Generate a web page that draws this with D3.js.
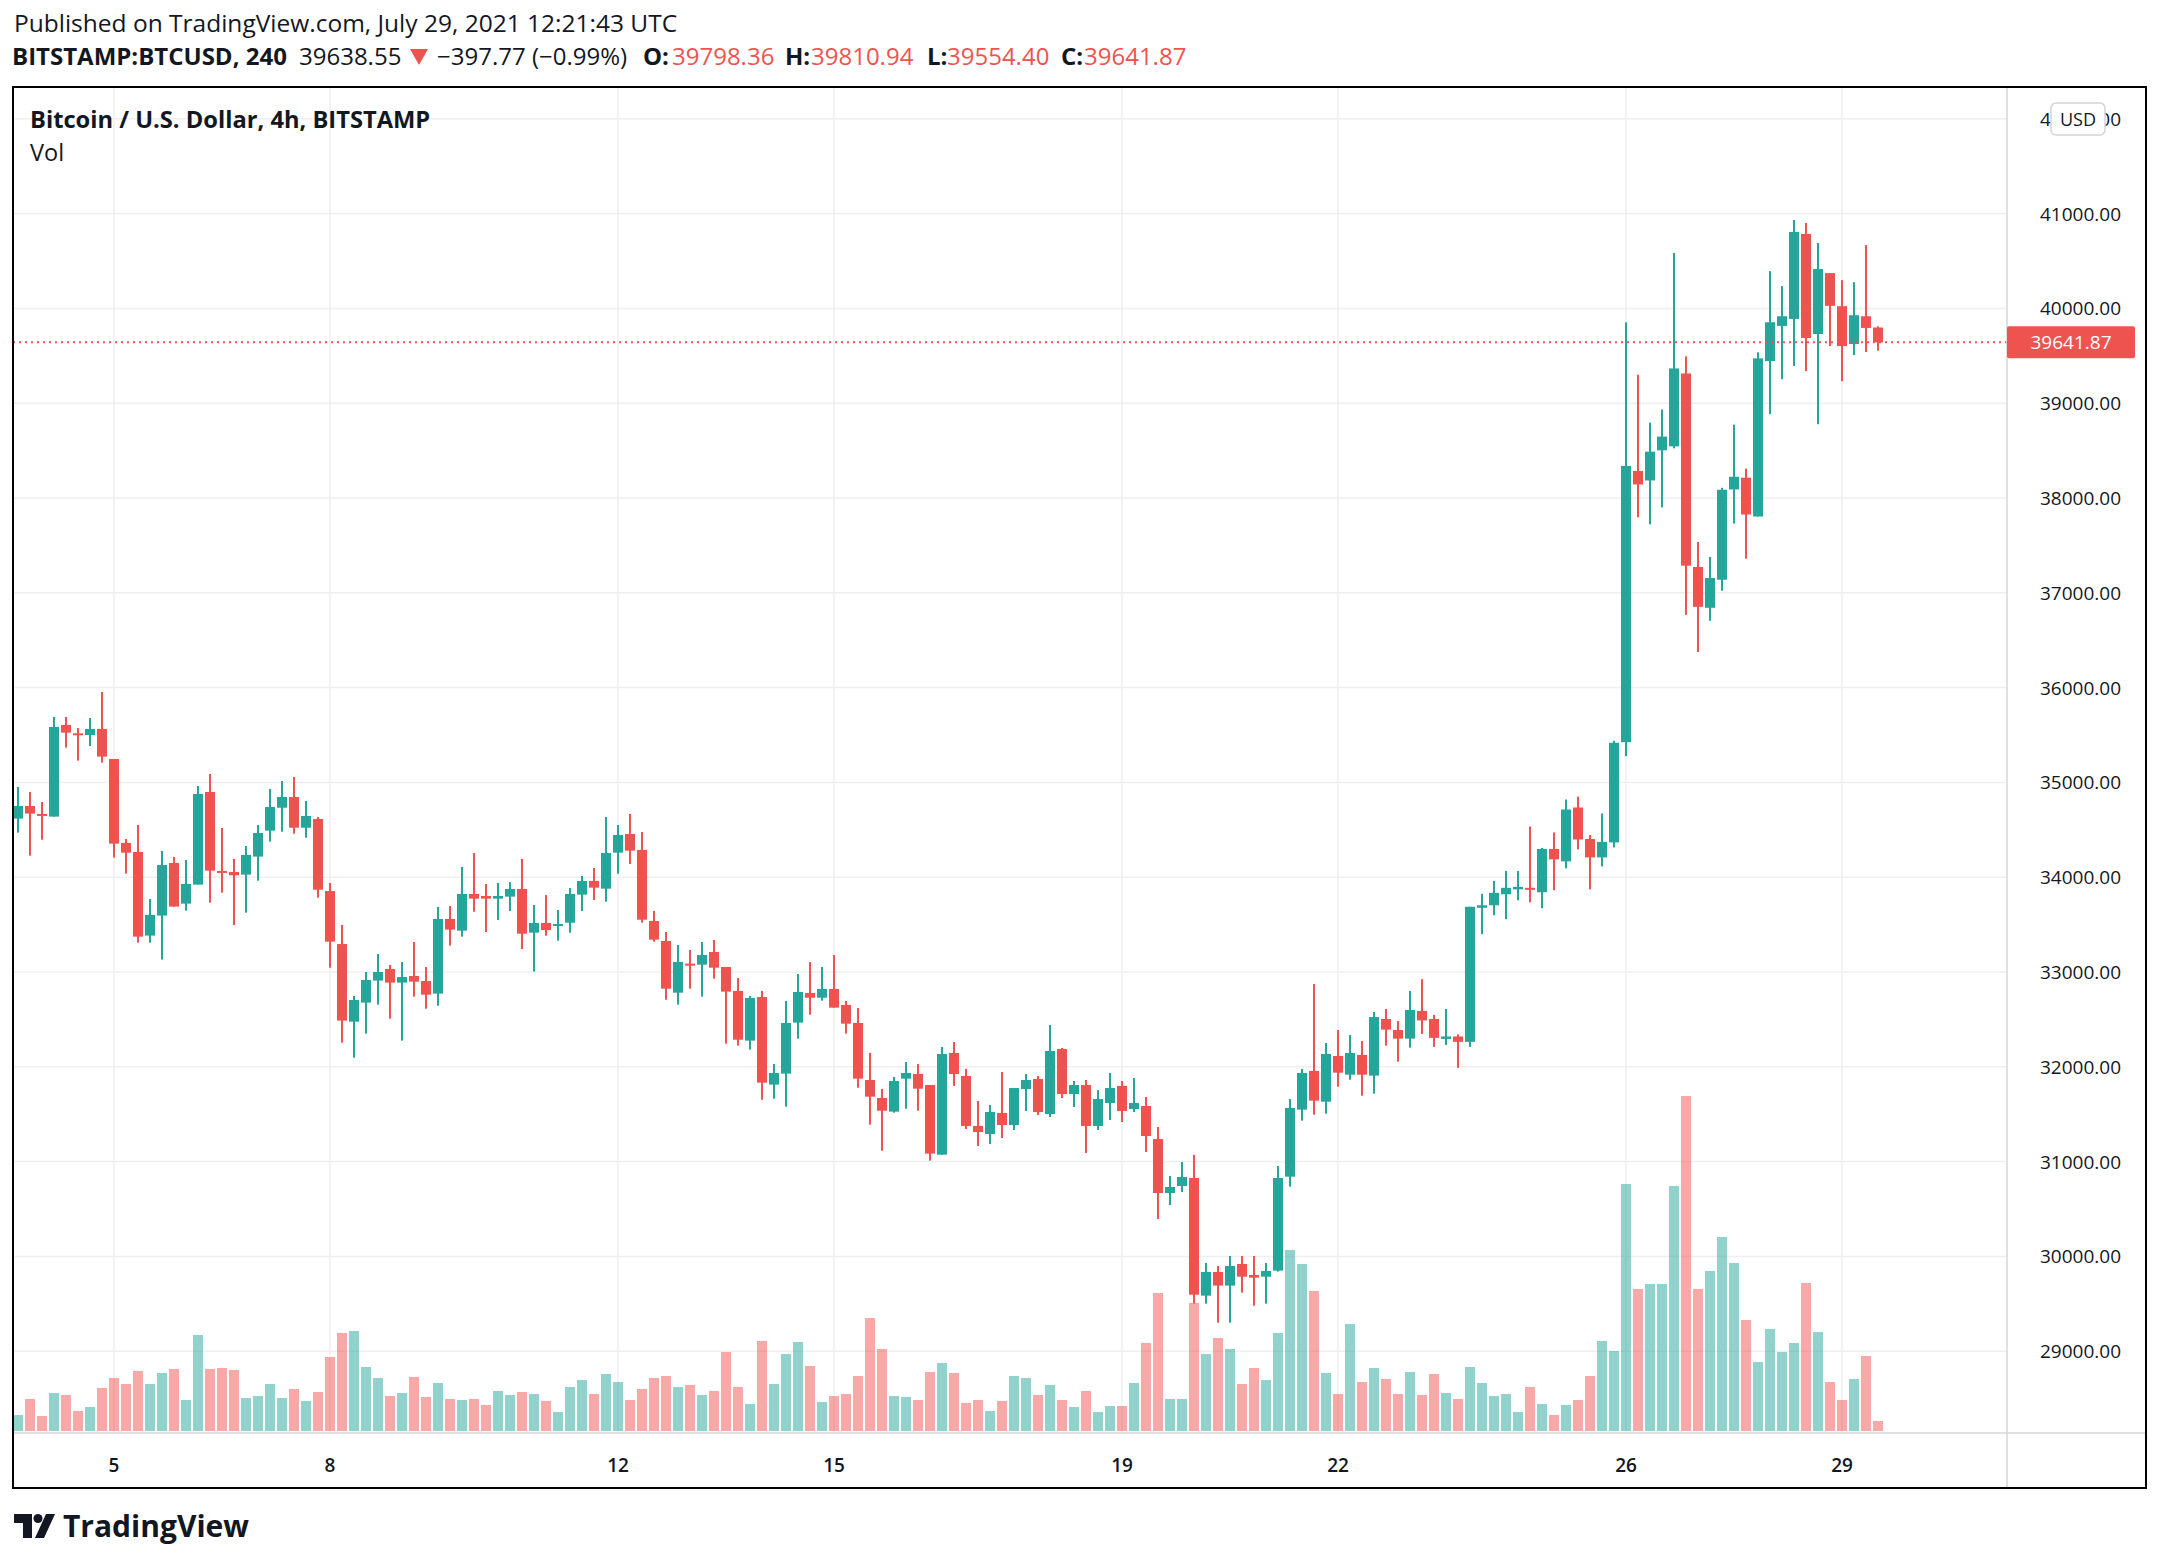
<!DOCTYPE html>
<html>
<head>
<meta charset="utf-8">
<script src="https://cdn.jsdelivr.net/npm/d3@7"></script>
<style>
  body { margin: 0; background: #fff; }
  svg text { font-family: "Open Sans", "Noto Sans", sans-serif; fill: #131722; }
</style>
</head>
<body>
<div id="chart"></div>
<script>
// BTCUSD 4h candles, Bitstamp, 3 Jul 16:00 UTC .. 29 Jul 12:00 UTC
let startTime = Date.UTC(2021, 6, 3, 16);
let stepMs = 4 * 3600 * 1000;

let openP = [
  34618, 34751, 34667, 34639, 35606, 35518, 35500, 35564,
  35247, 34361, 34266, 33384, 33595, 34150, 33721, 33922, 34899, 34066, 34055, 34027,
  34217, 34491, 34733, 34846, 34522, 34614, 33854, 33295, 32476, 32677, 32909, 33032,
  32888, 32958, 32905, 32772, 33559, 33436, 33823, 33802, 33774, 33795, 33876, 33415,
  33517, 33489, 33520, 33816, 33960, 33879, 34259, 34456, 34287, 33538, 33327, 32782,
  33088, 33077, 33211, 33053, 32800, 32276, 32736, 31812, 31928, 32466, 32779, 32729,
  32821, 32652, 32462, 31861, 31671, 31527, 31875, 31924, 31808, 31073, 32146, 31903,
  31376, 31291, 31513, 31386, 31766, 31871, 31502, 32188, 31713, 31808, 31376, 31618,
  31798, 31555, 31587, 31238, 30669, 30743, 30827, 29586, 29836, 29692, 29920, 29804,
  29786, 29850, 30841, 31548, 31956, 31632, 32114, 31917, 32125, 31907, 32504, 32388,
  32297, 32589, 32505, 32294, 32320, 32263, 33677, 33704, 33820, 33872, 33888, 33841,
  34298, 34167, 34735, 34403, 34209, 34367, 35424, 38285, 38185, 38503, 38545, 39314,
  37272, 36842, 37138, 38090, 38214, 37805, 39445, 39815, 39889, 40785, 39730, 40372,
  40023, 39624, 39917, 39798.36
];
let highP = [
  34952, 34899, 34794, 35690, 35690, 35574, 35680, 35954,
  35247, 34403, 34551, 33770, 34277, 34214, 34182, 34962, 35089, 34519, 34192, 34330,
  34551, 34930, 35015, 35057, 34804, 34635, 33939, 33496, 32747, 33000, 33190, 33074,
  33106, 33316, 33053, 33686, 33696, 34108, 34255, 33928, 33939, 33949, 34192, 33707,
  33812, 33654, 33886, 34013, 34097, 34635, 34551, 34667, 34477, 33644, 33422, 33285,
  33232, 33317, 33338, 33053, 32937, 32747, 32800, 32030, 32694, 32979, 33105, 33053,
  33179, 32694, 32620, 32146, 31766, 31892, 32051, 32030, 31808, 32209, 32262, 31977,
  31639, 31597, 31945, 31776, 31924, 31903, 32441, 32198, 31850, 31861, 31755, 31935,
  31850, 31882, 31681, 31365, 30848, 30996, 31070, 29931, 29899, 30004, 30004, 30004,
  29931, 30954, 31660, 31977, 32873, 32251, 32388, 32335, 32272, 32578, 32610, 32483,
  32800, 32925, 32547, 32610, 32342, 33688, 33825, 33961, 34067, 34067, 34535, 34309,
  34472, 34819, 34850, 34445, 34672, 35439, 39853, 39300, 38795, 38933, 40584, 39494,
  37536, 37378, 38108, 38774, 38309, 39536, 40393, 40235, 40933, 40901, 40690, 40372,
  40298, 40277, 40668, 39810.94
];
let lowP = [
  34470, 34228, 34396, 34639, 35367, 35230, 35384, 35209,
  34207, 34038, 33310, 33310, 33131, 33690, 33647, 33922, 33732, 33837, 33496, 33626,
  33963, 34375, 34480, 34459, 34417, 33784, 33046, 32255, 32096, 32350, 32656, 32508,
  32276, 32740, 32613, 32645, 33278, 33373, 33636, 33422, 33549, 33644, 33243, 33004,
  33383, 33331, 33415, 33644, 33760, 33742, 34037, 34139, 33520, 33320, 32708, 32656,
  32824, 32740, 32930, 32244, 32223, 32181, 31653, 31664, 31580, 32297, 32550, 32698,
  32624, 32350, 31780, 31390, 31115, 31516, 31558, 31537, 31010, 31073, 31798, 31344,
  31165, 31186, 31249, 31333, 31534, 31492, 31471, 31671, 31576, 31091, 31333, 31439,
  31418, 31523, 31101, 30395, 30542, 30679, 29502, 29502, 29301, 29301, 29618, 29480,
  29502, 29840, 30736, 31432, 31495, 31506, 31791, 31864, 31696, 31717, 32223, 32054,
  32202, 32347, 32210, 32231, 31989, 32210, 33399, 33599, 33557, 33756, 33735, 33672,
  33862, 34093, 34293, 33872, 34114, 34314, 35277, 37796, 37722, 37900, 38524, 36768,
  36376, 36704, 37022, 37730, 37360, 37805, 38884, 39254, 39392, 39339, 38778, 39603,
  39233, 39508, 39540, 39554.40
];
let closeP = [
  34751, 34671, 34650, 35585, 35525, 35497, 35564, 35272,
  34354, 34259, 33373, 33602, 34129, 33690, 33929, 34878, 34069, 34048, 34020, 34235,
  34466, 34740, 34846, 34522, 34646, 33868, 33320, 32487, 32705, 32916, 33000, 32888,
  32947, 32898, 32761, 33559, 33447, 33823, 33774, 33774, 33802, 33876, 33404, 33517,
  33443, 33506, 33823, 33960, 33890, 34255, 34445, 34280, 33552, 33341, 32824, 33106,
  33067, 33179, 33046, 32793, 32286, 32726, 31833, 31935, 32462, 32789, 32729, 32821,
  32624, 32455, 31875, 31685, 31537, 31850, 31935, 31769, 31084, 32135, 31924, 31376,
  31312, 31523, 31386, 31776, 31861, 31523, 32167, 31713, 31808, 31376, 31660, 31776,
  31534, 31618, 31270, 30669, 30732, 30838, 29596, 29836, 29692, 29899, 29786, 29776,
  29846, 30827, 31566, 31935, 31643, 32135, 31938, 32146, 31917, 32525, 32392, 32297,
  32599, 32489, 32305, 32320, 32263, 33688, 33704, 33835, 33888, 33898, 33867, 34298,
  34188, 34714, 34398, 34209, 34372, 35418, 38338, 38143, 38489, 38648, 39367, 37286,
  36852, 37156, 38087, 38224, 37826, 39473, 39854, 39917, 40806, 39688, 40415, 40027,
  39603, 39928, 39794, 39641.87
];
let volume = [
  160, 320, 150, 380, 360, 200, 240, 430,
  530, 470, 600, 470, 580, 620, 310, 960, 620, 630, 610, 330,
  350, 470, 330, 420, 300, 390, 740, 980, 1000, 640, 530, 350,
  380, 540, 340, 480, 320, 310, 320, 260, 400, 360, 390, 370,
  300, 190, 440, 510, 370, 570, 490, 310, 420, 530, 550, 440,
  460, 360, 400, 790, 440, 270, 900, 470, 770, 890, 650, 290,
  350, 370, 550, 1130, 820, 350, 340, 310, 590, 680, 580, 280,
  310, 200, 300, 550, 530, 360, 460, 310, 240, 400, 190, 250,
  250, 480, 880, 1380, 320, 320, 1280, 770, 930, 820, 470, 630,
  510, 980, 1810, 1670, 1400, 580, 370, 1070, 490, 630, 520, 370,
  590, 360, 570, 380, 320, 640, 480, 350, 370, 190, 440, 270,
  160, 260, 310, 550, 900, 800, 2470, 1420, 1470, 1470, 2450, 3350,
  1420, 1600, 1940, 1680, 1110, 690, 1020, 790, 880, 1480, 990, 490,
  310, 520, 750, 100
];

let dayTicks = [5, 8, 12, 15, 19, 22, 26, 29];
let priceTicks = [29000, 30000, 31000, 32000, 33000, 34000, 35000, 36000,
                  37000, 38000, 39000, 40000, 41000, 42000];
let lastPrice = 39641.87;

let upColor = "#26a69a", downColor = "#ef5350";

let candles = openP.map(function(o, i) {
  return {t: new Date(startTime + i * stepMs), o: o, h: highP[i], l: lowP[i], c: closeP[i], v: volume[i]};
});

let W = 2160, H = 1562;
let plot = {left: 13, top: 87, right: 2007, bottom: 1433};

let svg = d3.select("#chart").append("svg")
  .attr("width", W).attr("height", H)
  .style("display", "block");

svg.append("rect").attr("width", W).attr("height", H).attr("fill", "#fff");

let x = d3.scaleUtc()
  .domain([new Date(Date.UTC(2021, 6, 5)), new Date(Date.UTC(2021, 6, 29))])
  .range([114, 1842]);
let y = d3.scaleLinear().domain([30000, 41000]).range([1256.4, 213.6]);
let vy = d3.scaleLinear().domain([0, d3.max(volume)]).range([1431, 1096]);

svg.append("clipPath").attr("id", "plotclip")
  .append("rect")
  .attr("x", plot.left).attr("y", plot.top)
  .attr("width", plot.right - plot.left).attr("height", plot.bottom - plot.top);

// grid
let grid = svg.append("g").attr("clip-path", "url(#plotclip)");
grid.selectAll(".hgrid").data(priceTicks).enter().append("line")
  .attr("x1", plot.left).attr("x2", plot.right)
  .attr("y1", d => y(d)).attr("y2", d => y(d))
  .attr("stroke", "#efefef").attr("stroke-width", 1.5);
grid.selectAll(".vgrid").data(dayTicks).enter().append("line")
  .attr("x1", d => x(new Date(Date.UTC(2021, 6, d)))).attr("x2", d => x(new Date(Date.UTC(2021, 6, d))))
  .attr("y1", plot.top).attr("y2", plot.bottom)
  .attr("stroke", "#efefef").attr("stroke-width", 1.5);

let g = svg.append("g").attr("clip-path", "url(#plotclip)");

// volume
g.selectAll(".vol").data(candles).enter().append("rect")
  .attr("x", d => x(d.t) - 5).attr("width", 10)
  .attr("y", d => vy(d.v)).attr("height", d => vy(0) - vy(d.v))
  .attr("fill", d => d.c >= d.o ? upColor : downColor)
  .attr("fill-opacity", 0.5);

// wicks
g.selectAll(".wick").data(candles).enter().append("rect")
  .attr("x", d => x(d.t) - 1).attr("width", 2)
  .attr("y", d => y(d.h)).attr("height", d => Math.max(1, y(d.l) - y(d.h)))
  .attr("fill", d => d.c >= d.o ? upColor : downColor);

// bodies
g.selectAll(".body").data(candles).enter().append("rect")
  .attr("x", d => x(d.t) - 5).attr("width", 10)
  .attr("y", d => y(Math.max(d.o, d.c)))
  .attr("height", d => Math.max(2, Math.abs(y(d.o) - y(d.c))))
  .attr("fill", d => d.c >= d.o ? upColor : downColor);

// last price line
g.append("line")
  .attr("x1", plot.left).attr("x2", plot.right)
  .attr("y1", y(lastPrice)).attr("y2", y(lastPrice))
  .attr("stroke", downColor).attr("stroke-width", 2)
  .attr("stroke-dasharray", "2,4");

// axis separators
svg.append("line").attr("x1", plot.right).attr("x2", plot.right)
  .attr("y1", plot.top).attr("y2", 1488).attr("stroke", "#d6d6d6").attr("stroke-width", 1.5);
svg.append("line").attr("x1", plot.left).attr("x2", 2146)
  .attr("y1", plot.bottom).attr("y2", plot.bottom).attr("stroke", "#d6d6d6").attr("stroke-width", 1.5);

// price axis labels
let yAxis = svg.append("g");
yAxis.selectAll("text").data(priceTicks.filter(d => y(d) < plot.bottom - 10)).enter().append("text")
  .attr("x", 2040).attr("y", d => y(d) + 7)
  .style("font-size", "19px")
  .text(d => d3.format(".2f")(d));

// USD box (covers the middle of the top label, as in the original)
svg.append("rect").attr("x", 2051).attr("y", 103).attr("width", 54).attr("height", 32)
  .attr("rx", 5).attr("fill", "#fff").attr("stroke", "#d1d4dc").attr("stroke-width", 1.5);
svg.append("text").attr("x", 2078).attr("y", 126).attr("text-anchor", "middle")
  .style("font-size", "18px").text("USD");

// last price tag
svg.append("rect").attr("x", plot.right).attr("y", y(lastPrice) - 16)
  .attr("width", 128).attr("height", 32).attr("rx", 2).attr("fill", downColor);
svg.append("text").attr("x", 2071).attr("y", y(lastPrice) + 7)
  .attr("text-anchor", "middle").style("font-size", "19px").style("fill", "#fff")
  .text(d3.format(".2f")(lastPrice));

// time axis labels
svg.append("g").selectAll("text").data(dayTicks).enter().append("text")
  .attr("x", d => x(new Date(Date.UTC(2021, 6, d)))).attr("y", 1472)
  .attr("text-anchor", "middle")
  .style("font-size", "19px").style("font-weight", 600)
  .text(d => d);

// frame
svg.append("rect").attr("x", 13).attr("y", 87).attr("width", 2133).attr("height", 1401)
  .attr("fill", "none").attr("stroke", "#000").attr("stroke-width", 2);

// legend
svg.append("text").attr("x", 30).attr("y", 128)
  .style("font-size", "23.7px").style("font-weight", 700)
  .text("Bitcoin / U.S. Dollar, 4h, BITSTAMP");
svg.append("text").attr("x", 30).attr("y", 161)
  .style("font-size", "23.5px").text("Vol");

// header
svg.append("text").attr("x", 14).attr("y", 32).style("font-size", "24.5px")
  .text("Published on TradingView.com, July 29, 2021 12:21:43 UTC");

let hdr = [
  {x: 12, t: "BITSTAMP:BTCUSD, 240", w: 700, c: "#131722"},
  {x: 299, t: "39638.55", w: 400, c: "#131722"},
  {x: 437, t: "\u2212397.77 (\u22120.99%)", w: 400, c: "#131722"},
  {x: 643, t: "O:", w: 700, c: "#131722"},
  {x: 672, t: "39798.36", w: 400, c: downColor},
  {x: 785, t: "H:", w: 700, c: "#131722"},
  {x: 811, t: "39810.94", w: 400, c: downColor},
  {x: 927, t: "L:", w: 700, c: "#131722"},
  {x: 947, t: "39554.40", w: 400, c: downColor},
  {x: 1061, t: "C:", w: 700, c: "#131722"},
  {x: 1084, t: "39641.87", w: 400, c: downColor}
];
svg.append("g").selectAll("text").data(hdr).enter().append("text")
  .attr("x", d => d.x).attr("y", 65)
  .style("font-size", "24px").style("font-weight", d => d.w)
  .style("fill", d => d.c)
  .text(d => d.t);
// down arrow
svg.append("path").attr("d", "M410,49 L428,49 L419,65 Z").attr("fill", downColor);

// TradingView logo
let logo = svg.append("g").attr("transform", "translate(14,1514)");
logo.append("path").attr("d", "M0,0 H18 V24 H9 V9 H0 Z").attr("fill", "#131722");
logo.append("circle").attr("cx", 24).attr("cy", 4.5).attr("r", 4.5).attr("fill", "#131722");
logo.append("path").attr("d", "M32,0 H41 L30,24 H21 Z").attr("fill", "#131722");
svg.append("text").attr("x", 63).attr("y", 1537)
  .style("font-size", "30px").style("font-weight", 700).text("TradingView");
</script>
</body>
</html>
